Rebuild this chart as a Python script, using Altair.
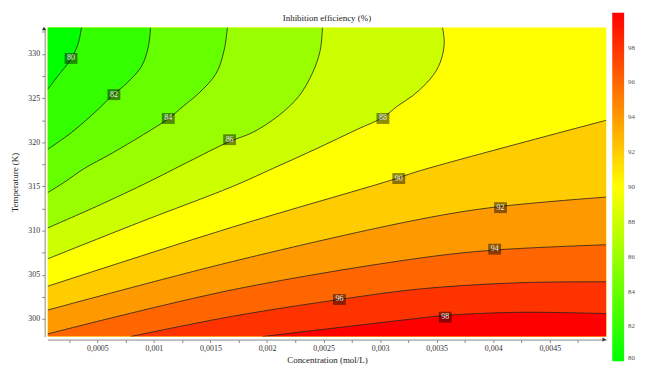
import altair as alt
import pandas as pd

# ---- plot domain ----
C_MIN, C_MAX = 0.00006, 0.005
T_MIN, T_MAX = 298.0, 333.0

# ---- contour lines (C in mol/L, T in K) ----
# low-efficiency side (region below the level lies to the upper left)
C80 = [0.00006, 0.00015, 0.00027, 0.00033, 0.00036]
T80 = [326.0, 327.5, 329.5, 331.2, 333.0]
C82 = [0.00006, 0.00027, 0.00047, 0.00064, 0.00076, 0.00089, 0.00095, 0.00097]
T82 = [319.2, 321.1, 323.3, 325.4, 326.7, 328.6, 330.8, 333.0]
C84 = [0.00006, 0.00021, 0.00038, 0.00062, 0.00091, 0.00113, 0.00126, 0.00140, 0.00155, 0.00162, 0.00165]
T84 = [314.3, 315.5, 317.0, 318.7, 320.9, 322.7, 324.1, 325.6, 327.8, 330.4, 333.0]
C86 = [0.00006, 0.00052, 0.00095, 0.00129, 0.00167, 0.00187, 0.00210, 0.00228, 0.00240, 0.00247, 0.00249]
T86 = [310.3, 312.9, 315.5, 317.7, 320.1, 321.1, 323.0, 325.2, 327.8, 330.4, 333.0]
C88 = [0.00006, 0.000865, 0.001695, 0.002045, 0.002424, 0.002803, 0.003022, 0.003153, 0.003290, 0.003410, 0.003500, 0.003550, 0.003567, 0.003552]
T88 = [306.8, 310.9, 315.0, 317.0, 319.2, 321.5, 322.8, 324.1, 325.3, 326.7, 328.2, 329.8, 331.4, 333.0]
# high-efficiency side (region above the level lies below the line)
C90 = [0.00006, 0.001695, 0.003094, 0.003357, 0.005]
T90 = [303.7, 310.4, 315.7, 316.8, 322.5]
C92 = [0.00006, 0.001695, 0.003357, 0.004039, 0.005]
T92 = [301.0, 306.5, 311.3, 312.7, 313.8]
C94 = [0.00006, 0.001695, 0.003357, 0.004013, 0.005]
T94 = [298.3, 303.3, 306.9, 307.8, 308.4]
C96 = [0.000792, 0.001695, 0.00264, 0.003357, 0.004232, 0.005]
T96 = [298.0, 300.3, 302.2, 303.4, 304.1, 304.2]
C98 = [0.001958, 0.003357, 0.003576, 0.004232, 0.005]
T98 = [298.0, 300.1, 300.4, 300.75, 300.6]

# ---- contour labels ----
LBL_TEXT = ["80", "82", "84", "86", "88", "90", "92", "94", "96", "98"]
LBL_C = [0.000267, 0.000646, 0.001127, 0.001669, 0.003025, 0.003165, 0.004065, 0.004013, 0.00264, 0.003576]
LBL_T = [329.5, 325.4, 322.7, 320.3, 322.7, 315.9, 312.6, 307.9, 302.2, 300.2]

LEGEND_VALUES = [80, 82, 84, 86, 88, 90, 92, 94, 96, 98]

SERIF = "Liberation Serif"

color_scale = alt.Scale(domain=[80, 90, 100], range=["#00ff00", "#ffff00", "#ff0000"],
                        interpolate="rgb")
legend = alt.Legend(title=None, orient="none", legendX=570, legendY=-15,
                    direction="vertical", gradientLength=352, gradientThickness=12,
                    values=LEGEND_VALUES, labelFont=SERIF, labelFontSize=7,
                    labelColor="#555555", labelOffset=4, gradientStrokeWidth=0,
                    labelOverlap=False)
COL = alt.Color("fill:Q", scale=color_scale, legend=legend)

x_axis = alt.Axis(values=[0.00025 * k for k in range(1, 20)],
                  labelExpr="(round(datum.value*10000) % 5 == 0) ? replace(format(datum.value, '.4~f'), '.', ',') : ''",
                  grid=False, offset=3, tickSize=3, labelPadding=2, titlePadding=3,
                  domainColor="#888888", tickColor="#888888")
y_axis = alt.Axis(values=[297.5 + 2.5 * k for k in range(1, 15)],
                  labelExpr="(datum.value % 5 == 0) ? datum.value : ''",
                  grid=False, offset=3, tickSize=3, labelPadding=2, titlePadding=8,
                  domainColor="#888888", tickColor="#888888")
xs = alt.Scale(domain=[C_MIN, C_MAX], nice=False, zero=False)
ys = alt.Scale(domain=[T_MIN, T_MAX], nice=False, zero=False)
X = alt.X("C:Q", scale=xs, axis=x_axis, title="Concentration (mol/L)")
Y = alt.Y("T:Q", scale=ys, axis=y_axis, title="Temperature (K)")


def cdf(C, T, level, fill):
    return pd.DataFrame({"C": C, "T": T, "level": level, "fill": fill,
                         "i": list(range(len(C)))})


layers = []
bg = pd.DataFrame({"C": [C_MIN], "C2": [C_MAX], "T": [T_MIN], "T2": [T_MAX], "fill": [90]})
layers.append(alt.Chart(bg).mark_rect().encode(x=X, x2="C2", y=Y, y2="T2", color=COL))

high = [(C90, T90, 90, 92), (C92, T92, 92, 94), (C94, T94, 94, 96),
        (C96, T96, 96, 98), (C98, T98, 98, 100)]
low = [(C88, T88, 88, 88), (C86, T86, 86, 86), (C84, T84, 84, 84),
       (C82, T82, 82, 82), (C80, T80, 80, 80)]

for C, T, lev, f in high:
    layers.append(alt.Chart(cdf(C, T, lev, f)).mark_area(
        orient="vertical", interpolate="catmull-rom", clip=True).encode(
        x=X, y=Y, y2=alt.datum(T_MIN), color=COL))
for C, T, lev, f in low:
    layers.append(alt.Chart(cdf(C, T, lev, f)).mark_area(
        orient="horizontal", interpolate="catmull-rom", clip=True).encode(
        y=Y, x=X, x2=alt.datum(C_MIN), color=COL))

for C, T, lev, f in high + low:
    layers.append(alt.Chart(cdf(C, T, lev, f)).mark_line(
        interpolate="catmull-rom", clip=True, color="#222222", strokeWidth=0.8).encode(
        x=X, y=Y, order=alt.Order("i:Q")))

lbl = pd.DataFrame({"C": LBL_C, "T": LBL_T, "txt": LBL_TEXT})
layers.append(alt.Chart(lbl).mark_rect(width=13, height=11, color="black", opacity=0.45).encode(x=X, y=Y))
layers.append(alt.Chart(lbl).mark_text(font=SERIF, fontSize=8, color="#eeeeee").encode(
    x=X, y=Y, text="txt:N"))

# axis arrows
layers.append(alt.Chart(pd.DataFrame({"C": [C_MIN], "T": [T_MAX]})).mark_point(
    shape="triangle-up", filled=True, size=18, color="#333333", opacity=1, xOffset=-3.7, yOffset=1).encode(x=X, y=Y))
layers.append(alt.Chart(pd.DataFrame({"C": [C_MAX], "T": [T_MIN]})).mark_point(
    shape="triangle-right", filled=True, size=18, color="#333333", opacity=1, yOffset=3, xOffset=-2).encode(x=X, y=Y))

chart = alt.layer(*layers).properties(
    width=564, height=312,
    title=alt.Title("Inhibition efficiency (%)", font=SERIF, fontSize=9, fontWeight="normal",
                    color="#222222", offset=5, dy=15, anchor="middle", frame="group"),
    autosize=alt.AutoSizeParams(type="none"),
    padding={"left": 40, "top": 18, "right": 32, "bottom": 30},
).configure_view(stroke=None).configure_axis(
    labelFont=SERIF, labelFontSize=8, labelColor="#333333",
    titleFont=SERIF, titleFontSize=9, titleFontWeight="normal", titleColor="#222222",
)

chart.save("out.html", embed_options={"renderer": "svg", "actions": False})
